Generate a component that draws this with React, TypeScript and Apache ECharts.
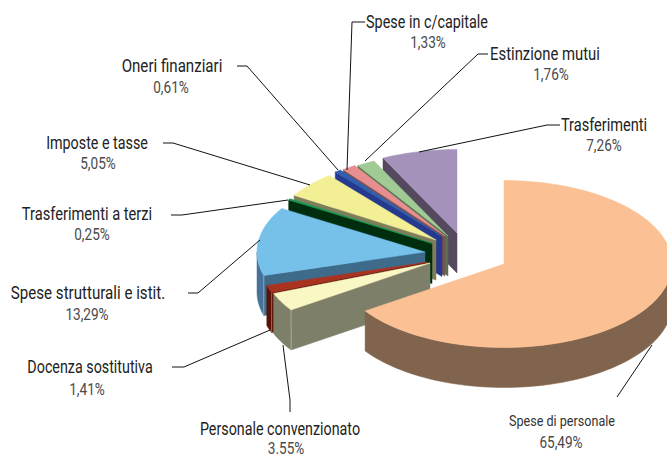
import React, { useEffect, useRef } from "react";
import * as echarts from "echarts";

// ---- data, clockwise from 12 o'clock ----
const categories = [
  "Spese di personale",
  "Personale convenzionato",
  "Docenza sostitutiva",
  "Spese strutturali e istit.",
  "Trasferimenti a terzi",
  "Imposte e tasse",
  "Oneri finanziari",
  "Spese in c/capitale",
  "Estinzione mutui",
  "Trasferimenti",
];
const shares = [65.49, 3.55, 1.41, 13.29, 0.25, 5.05, 0.61, 1.33, 1.76, 7.26];
const shareLabels = ["65,49%", "3.55%", "1,41%", "13,29%", "0,25%", "5,05%", "0,61%", "1,33%", "1,76%", "7,26%"];

// ---- pie styling ----
const topColors = ["#fbc093", "#f9f7c4", "#aa3320", "#75c1ea", "#0e9a52", "#f3ef94", "#2e5fb0", "#e68e90", "#a0cb95", "#a492bb"];
const faceColors = ["#80644e", "#7e7f68", "#5b1206", "#3f6b8b", "#002d0e", "#7e7e5b", "#253a8f", "#7a5050", "#56714f", "#54495e"];
const wallColors = ["#80644e", "#7e7f68", "#5b1206", "#47729a", "#002d0e", "#7e7e5b", "#253a8f", "#7a5050", "#56714f", "#54495e"];
const explodeX = [0, -74, -76, -79, -72, -68, -62, -59, -56, -47];
const explodeY = [0, -1, -2, -12, -20.5, -24, -27.5, -28, -28, -31];
const CX = 504;
const CY = 264;
const RX = 168;
const RY = 83.5;
const DEPTH = 40;
const DEG = Math.PI / 180;

// ---- label layout ----
const labelX = [562, 280, 90, 88, 87, 97, 172, 427, 545, 604];
const nameY = [421, 429, 367, 293, 214, 143, 66, 22, 54, 125];
const shareY = [443, 449, 390, 315, 235, 164, 88, 43, 75, 146];
const shareX = [561, 286, 87, 87, 92, 98, 171, 428, 551, 604];
const nameSize = [15, 18, 18, 18, 18, 18, 18, 18, 18, 18];
const nameSqueeze = [0.84, 0.795, 0.795, 0.84, 0.815, 0.795, 0.84, 0.8, 0.825, 0.81];
const SHARE_SQUEEZE = 0.85;
const leaders: number[][][] = [
  [[617, 397], [652, 345]],
  [[290, 412], [290, 400], [283, 345]],
  [[172, 367], [184, 367], [270, 330]],
  [[188, 293], [198, 293], [260, 240]],
  [[171, 215], [182, 215], [288, 200]],
  [[163, 143], [173, 143], [310, 185]],
  [[237, 66], [247, 66], [338, 170]],
  [[365, 22], [352, 22], [347, 170]],
  [[488, 54], [478, 54], [365, 161]],
  [[560, 125], [547, 125], [419, 152]],
];

const FONT = "Roboto, sans-serif";

function renderSlice(params: any, api: any) {
  const i = params.dataIndex;
  const total = shares.reduce((a, b) => a + b, 0);
  let before = 0;
  for (let k = 0; k < i; k++) before += api.value(0, k);
  const start = (before / total) * 360;
  const end = ((before + api.value(0)) / total) * 360;
  const ax = CX + explodeX[i];
  const ay = CY + explodeY[i];
  const pt = (deg: number, drop = 0) => [
    ax + RX * Math.sin(deg * DEG),
    ay - RY * Math.cos(deg * DEG) + drop,
  ];
  // painter's order: back slices first, the big front slice last
  const rank = i === 0 ? 100 : (10 - i) * 5;
  const children: any[] = [];

  // radial face at the starting angle
  if (i !== 0) {
    children.push({
      type: "polygon",
      z2: rank,
      shape: { points: [pt(start), [ax, ay], [ax, ay + DEPTH], pt(start, DEPTH)] },
      style: { fill: faceColors[i], stroke: faceColors[i], lineWidth: 0.5 },
    });
  }
  // outer wall, only where the rim faces the viewer
  const wStart = Math.max(start, 90);
  const wEnd = Math.min(end, 270);
  if (wEnd > wStart) {
    const up: number[][] = [];
    const down: number[][] = [];
    const n = Math.ceil((wEnd - wStart) / 2);
    for (let s = 0; s <= n; s++) {
      const d = wStart + ((wEnd - wStart) * s) / n;
      up.push(pt(d));
      down.unshift(pt(d, DEPTH));
    }
    children.push({
      type: "polygon",
      z2: rank + 1,
      shape: { points: up.concat(down) },
      style: { fill: wallColors[i], stroke: wallColors[i], lineWidth: 0.5 },
    });
    if (i !== 0) {
      children.push({
        type: "line",
        z2: rank + 2,
        shape: { x1: pt(start)[0], y1: pt(start)[1], x2: pt(start)[0], y2: pt(start)[1] + DEPTH },
        style: { stroke: "rgba(255,255,255,0.35)", lineWidth: 1 },
      });
    }
  }
  // top face
  const top: number[][] = [[ax, ay]];
  const m = Math.max(2, Math.ceil((end - start) / 1.5));
  for (let s = 0; s <= m; s++) top.push(pt(start + ((end - start) * s) / m));
  children.push({
    type: "polygon",
    z2: rank + 3,
    shape: { points: top },
    style: { fill: topColors[i], stroke: topColors[i], lineWidth: 0.5 },
  });
  return { type: "group", children };
}

export default function App() {
  const ref = useRef<HTMLDivElement>(null);
  useEffect(() => {
    document.body.style.margin = "0";
    const chart = echarts.init(ref.current!, undefined, { renderer: "svg" });
    const graphics: any[] = [];
    categories.forEach((name, i) => {
      graphics.push({
        type: "polyline",
        z: 10,
        shape: { points: leaders[i] },
        style: { stroke: "#111", lineWidth: 1, fill: "none" },
      });
      graphics.push({
        type: "text",
        z: 11,
        x: labelX[i],
        y: nameY[i],
        scaleX: nameSqueeze[i],
        style: { text: name, font: `${nameSize[i]}px ${FONT}`, fill: i === 0 ? "#333" : "#222", align: "center", verticalAlign: "middle" },
      });
      graphics.push({
        type: "text",
        z: 11,
        x: shareX[i],
        y: shareY[i],
        scaleX: SHARE_SQUEEZE,
        style: { text: shareLabels[i], font: `16px ${FONT}`, lineHeight: 12, fill: "#4a4a4a", align: "center", verticalAlign: "middle" },
      });
    });
    chart.setOption({
      animation: false,
      backgroundColor: "#ffffff",
      series: [
        {
          type: "custom",
          coordinateSystem: "none",
          renderItem: renderSlice,
          clip: false,
          data: shares.map((v, i) => ({ name: categories[i], value: [v] })),
        },
      ],
      graphic: graphics,
    });
    return () => chart.dispose();
  }, []);
  return <div ref={ref} style={{ width: 667, height: 458 }} />;
}
